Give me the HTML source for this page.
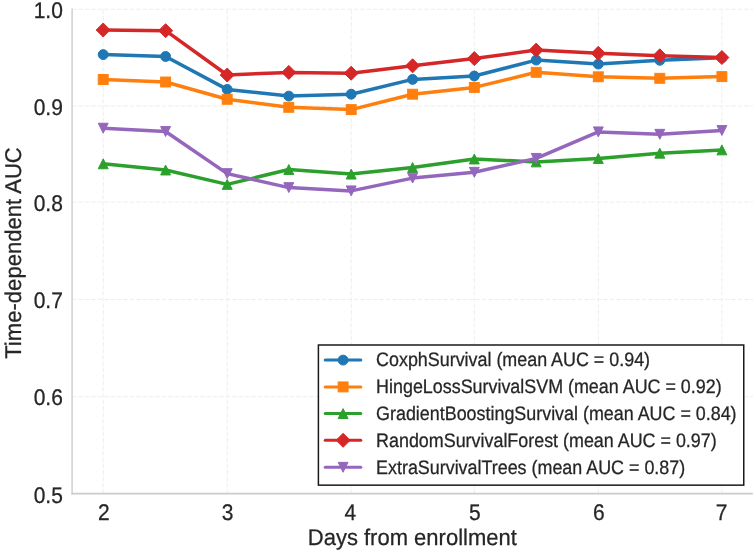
<!DOCTYPE html>
<html><head><meta charset="utf-8"><style>
html,body{margin:0;padding:0;background:#fff;width:756px;height:552px;overflow:hidden;}
svg{display:block;will-change:transform;filter:blur(0.3px);text-rendering:geometricPrecision;font-family:"Liberation Sans",sans-serif;}
</style></head><body>
<svg width="756" height="552" viewBox="0 0 756 552">
<rect width="756" height="552" fill="#fff"/>
<line x1="103.20" y1="9.20" x2="103.20" y2="493.30" stroke="#eeeeee" stroke-width="1" stroke-dasharray="4.6,1.8"/>
<line x1="227.20" y1="9.20" x2="227.20" y2="493.30" stroke="#eeeeee" stroke-width="1" stroke-dasharray="4.6,1.8"/>
<line x1="351.20" y1="9.20" x2="351.20" y2="493.30" stroke="#eeeeee" stroke-width="1" stroke-dasharray="4.6,1.8"/>
<line x1="474.30" y1="9.20" x2="474.30" y2="493.30" stroke="#eeeeee" stroke-width="1" stroke-dasharray="4.6,1.8"/>
<line x1="598.30" y1="9.20" x2="598.30" y2="493.30" stroke="#eeeeee" stroke-width="1" stroke-dasharray="4.6,1.8"/>
<line x1="721.90" y1="9.20" x2="721.90" y2="493.30" stroke="#eeeeee" stroke-width="1" stroke-dasharray="4.6,1.8"/>
<line x1="72.10" y1="396.70" x2="752.90" y2="396.70" stroke="#eeeeee" stroke-width="1" stroke-dasharray="4.6,1.8"/>
<line x1="72.10" y1="299.40" x2="752.90" y2="299.40" stroke="#eeeeee" stroke-width="1" stroke-dasharray="4.6,1.8"/>
<line x1="72.10" y1="202.10" x2="752.90" y2="202.10" stroke="#eeeeee" stroke-width="1" stroke-dasharray="4.6,1.8"/>
<line x1="72.10" y1="106.00" x2="752.90" y2="106.00" stroke="#eeeeee" stroke-width="1" stroke-dasharray="4.6,1.8"/>
<line x1="72.10" y1="9.20" x2="752.90" y2="9.20" stroke="#eeeeee" stroke-width="1" stroke-dasharray="4.6,1.8"/>
<line x1="72.10" y1="8.50" x2="72.10" y2="494.40" stroke="#cccccc" stroke-width="1.4"/>
<line x1="71.40" y1="493.60" x2="752.90" y2="493.60" stroke="#cccccc" stroke-width="1.6"/>
<polyline points="103.20,54.60 165.60,56.50 227.20,89.40 288.80,96.10 351.20,94.20 412.60,79.40 474.30,76.00 536.20,60.10 598.30,64.10 659.80,60.30 721.90,57.80" fill="none" stroke="#1f77b4" stroke-width="3.5" stroke-linejoin="round" stroke-linecap="round"/>
<circle cx="103.20" cy="54.60" r="4.95" fill="#1f77b4" stroke="#1f77b4" stroke-width="1.0"/>
<circle cx="165.60" cy="56.50" r="4.95" fill="#1f77b4" stroke="#1f77b4" stroke-width="1.0"/>
<circle cx="227.20" cy="89.40" r="4.95" fill="#1f77b4" stroke="#1f77b4" stroke-width="1.0"/>
<circle cx="288.80" cy="96.10" r="4.95" fill="#1f77b4" stroke="#1f77b4" stroke-width="1.0"/>
<circle cx="351.20" cy="94.20" r="4.95" fill="#1f77b4" stroke="#1f77b4" stroke-width="1.0"/>
<circle cx="412.60" cy="79.40" r="4.95" fill="#1f77b4" stroke="#1f77b4" stroke-width="1.0"/>
<circle cx="474.30" cy="76.00" r="4.95" fill="#1f77b4" stroke="#1f77b4" stroke-width="1.0"/>
<circle cx="536.20" cy="60.10" r="4.95" fill="#1f77b4" stroke="#1f77b4" stroke-width="1.0"/>
<circle cx="598.30" cy="64.10" r="4.95" fill="#1f77b4" stroke="#1f77b4" stroke-width="1.0"/>
<circle cx="659.80" cy="60.30" r="4.95" fill="#1f77b4" stroke="#1f77b4" stroke-width="1.0"/>
<circle cx="721.90" cy="57.80" r="4.95" fill="#1f77b4" stroke="#1f77b4" stroke-width="1.0"/>
<polyline points="103.20,79.50 165.60,82.00 227.20,99.30 288.80,107.30 351.20,109.60 412.60,94.20 474.30,87.40 536.20,72.30 598.30,76.80 659.80,78.30 721.90,76.60" fill="none" stroke="#ff7f0e" stroke-width="3.5" stroke-linejoin="round" stroke-linecap="round"/>
<rect x="98.25" y="74.55" width="9.90" height="9.90" fill="#ff7f0e" stroke="#ff7f0e" stroke-width="1.0"/>
<rect x="160.65" y="77.05" width="9.90" height="9.90" fill="#ff7f0e" stroke="#ff7f0e" stroke-width="1.0"/>
<rect x="222.25" y="94.35" width="9.90" height="9.90" fill="#ff7f0e" stroke="#ff7f0e" stroke-width="1.0"/>
<rect x="283.85" y="102.35" width="9.90" height="9.90" fill="#ff7f0e" stroke="#ff7f0e" stroke-width="1.0"/>
<rect x="346.25" y="104.65" width="9.90" height="9.90" fill="#ff7f0e" stroke="#ff7f0e" stroke-width="1.0"/>
<rect x="407.65" y="89.25" width="9.90" height="9.90" fill="#ff7f0e" stroke="#ff7f0e" stroke-width="1.0"/>
<rect x="469.35" y="82.45" width="9.90" height="9.90" fill="#ff7f0e" stroke="#ff7f0e" stroke-width="1.0"/>
<rect x="531.25" y="67.35" width="9.90" height="9.90" fill="#ff7f0e" stroke="#ff7f0e" stroke-width="1.0"/>
<rect x="593.35" y="71.85" width="9.90" height="9.90" fill="#ff7f0e" stroke="#ff7f0e" stroke-width="1.0"/>
<rect x="654.85" y="73.35" width="9.90" height="9.90" fill="#ff7f0e" stroke="#ff7f0e" stroke-width="1.0"/>
<rect x="716.95" y="71.65" width="9.90" height="9.90" fill="#ff7f0e" stroke="#ff7f0e" stroke-width="1.0"/>
<polyline points="103.20,163.80 165.60,170.00 227.20,184.40 288.80,169.50 351.20,174.10 412.60,167.50 474.30,159.00 536.20,161.90 598.30,158.50 659.80,153.20 721.90,149.90" fill="none" stroke="#2ca02c" stroke-width="3.5" stroke-linejoin="round" stroke-linecap="round"/>
<path d="M103.20,158.85L108.15,168.75L98.25,168.75Z" fill="#2ca02c" stroke="#2ca02c" stroke-width="1.0" stroke-linejoin="miter"/>
<path d="M165.60,165.05L170.55,174.95L160.65,174.95Z" fill="#2ca02c" stroke="#2ca02c" stroke-width="1.0" stroke-linejoin="miter"/>
<path d="M227.20,179.45L232.15,189.35L222.25,189.35Z" fill="#2ca02c" stroke="#2ca02c" stroke-width="1.0" stroke-linejoin="miter"/>
<path d="M288.80,164.55L293.75,174.45L283.85,174.45Z" fill="#2ca02c" stroke="#2ca02c" stroke-width="1.0" stroke-linejoin="miter"/>
<path d="M351.20,169.15L356.15,179.05L346.25,179.05Z" fill="#2ca02c" stroke="#2ca02c" stroke-width="1.0" stroke-linejoin="miter"/>
<path d="M412.60,162.55L417.55,172.45L407.65,172.45Z" fill="#2ca02c" stroke="#2ca02c" stroke-width="1.0" stroke-linejoin="miter"/>
<path d="M474.30,154.05L479.25,163.95L469.35,163.95Z" fill="#2ca02c" stroke="#2ca02c" stroke-width="1.0" stroke-linejoin="miter"/>
<path d="M536.20,156.95L541.15,166.85L531.25,166.85Z" fill="#2ca02c" stroke="#2ca02c" stroke-width="1.0" stroke-linejoin="miter"/>
<path d="M598.30,153.55L603.25,163.45L593.35,163.45Z" fill="#2ca02c" stroke="#2ca02c" stroke-width="1.0" stroke-linejoin="miter"/>
<path d="M659.80,148.25L664.75,158.15L654.85,158.15Z" fill="#2ca02c" stroke="#2ca02c" stroke-width="1.0" stroke-linejoin="miter"/>
<path d="M721.90,144.95L726.85,154.85L716.95,154.85Z" fill="#2ca02c" stroke="#2ca02c" stroke-width="1.0" stroke-linejoin="miter"/>
<polyline points="103.20,30.00 165.60,30.70 227.20,75.00 288.80,72.40 351.20,73.20 412.60,65.80 474.30,58.60 536.20,50.10 598.30,53.30 659.80,55.80 721.90,57.50" fill="none" stroke="#d62728" stroke-width="3.5" stroke-linejoin="round" stroke-linecap="round"/>
<path d="M103.20,23.00L110.20,30.00L103.20,37.00L96.20,30.00Z" fill="#d62728" stroke="#d62728" stroke-width="1.0" stroke-linejoin="miter"/>
<path d="M165.60,23.70L172.60,30.70L165.60,37.70L158.60,30.70Z" fill="#d62728" stroke="#d62728" stroke-width="1.0" stroke-linejoin="miter"/>
<path d="M227.20,68.00L234.20,75.00L227.20,82.00L220.20,75.00Z" fill="#d62728" stroke="#d62728" stroke-width="1.0" stroke-linejoin="miter"/>
<path d="M288.80,65.40L295.80,72.40L288.80,79.40L281.80,72.40Z" fill="#d62728" stroke="#d62728" stroke-width="1.0" stroke-linejoin="miter"/>
<path d="M351.20,66.20L358.20,73.20L351.20,80.20L344.20,73.20Z" fill="#d62728" stroke="#d62728" stroke-width="1.0" stroke-linejoin="miter"/>
<path d="M412.60,58.80L419.60,65.80L412.60,72.80L405.60,65.80Z" fill="#d62728" stroke="#d62728" stroke-width="1.0" stroke-linejoin="miter"/>
<path d="M474.30,51.60L481.30,58.60L474.30,65.60L467.30,58.60Z" fill="#d62728" stroke="#d62728" stroke-width="1.0" stroke-linejoin="miter"/>
<path d="M536.20,43.10L543.20,50.10L536.20,57.10L529.20,50.10Z" fill="#d62728" stroke="#d62728" stroke-width="1.0" stroke-linejoin="miter"/>
<path d="M598.30,46.30L605.30,53.30L598.30,60.30L591.30,53.30Z" fill="#d62728" stroke="#d62728" stroke-width="1.0" stroke-linejoin="miter"/>
<path d="M659.80,48.80L666.80,55.80L659.80,62.80L652.80,55.80Z" fill="#d62728" stroke="#d62728" stroke-width="1.0" stroke-linejoin="miter"/>
<path d="M721.90,50.50L728.90,57.50L721.90,64.50L714.90,57.50Z" fill="#d62728" stroke="#d62728" stroke-width="1.0" stroke-linejoin="miter"/>
<polyline points="103.20,128.20 165.60,131.50 227.20,173.60 288.80,187.60 351.20,190.90 412.60,178.10 474.30,172.30 536.20,158.40 598.30,131.90 659.80,134.30 721.90,130.50" fill="none" stroke="#9467bd" stroke-width="3.5" stroke-linejoin="round" stroke-linecap="round"/>
<path d="M103.20,133.15L108.15,123.25L98.25,123.25Z" fill="#9467bd" stroke="#9467bd" stroke-width="1.0" stroke-linejoin="miter"/>
<path d="M165.60,136.45L170.55,126.55L160.65,126.55Z" fill="#9467bd" stroke="#9467bd" stroke-width="1.0" stroke-linejoin="miter"/>
<path d="M227.20,178.55L232.15,168.65L222.25,168.65Z" fill="#9467bd" stroke="#9467bd" stroke-width="1.0" stroke-linejoin="miter"/>
<path d="M288.80,192.55L293.75,182.65L283.85,182.65Z" fill="#9467bd" stroke="#9467bd" stroke-width="1.0" stroke-linejoin="miter"/>
<path d="M351.20,195.85L356.15,185.95L346.25,185.95Z" fill="#9467bd" stroke="#9467bd" stroke-width="1.0" stroke-linejoin="miter"/>
<path d="M412.60,183.05L417.55,173.15L407.65,173.15Z" fill="#9467bd" stroke="#9467bd" stroke-width="1.0" stroke-linejoin="miter"/>
<path d="M474.30,177.25L479.25,167.35L469.35,167.35Z" fill="#9467bd" stroke="#9467bd" stroke-width="1.0" stroke-linejoin="miter"/>
<path d="M536.20,163.35L541.15,153.45L531.25,153.45Z" fill="#9467bd" stroke="#9467bd" stroke-width="1.0" stroke-linejoin="miter"/>
<path d="M598.30,136.85L603.25,126.95L593.35,126.95Z" fill="#9467bd" stroke="#9467bd" stroke-width="1.0" stroke-linejoin="miter"/>
<path d="M659.80,139.25L664.75,129.35L654.85,129.35Z" fill="#9467bd" stroke="#9467bd" stroke-width="1.0" stroke-linejoin="miter"/>
<path d="M721.90,135.45L726.85,125.55L716.95,125.55Z" fill="#9467bd" stroke="#9467bd" stroke-width="1.0" stroke-linejoin="miter"/>
<text transform="translate(103.85,519.62) scale(1.0,1.074)" text-anchor="middle" font-size="21.0" fill="#262626" stroke="#262626" stroke-width="0.25">2</text>
<text transform="translate(227.70,519.62) scale(1.0,1.074)" text-anchor="middle" font-size="21.0" fill="#262626" stroke="#262626" stroke-width="0.25">3</text>
<text transform="translate(350.45,519.62) scale(1.0,1.074)" text-anchor="middle" font-size="21.0" fill="#262626" stroke="#262626" stroke-width="0.25">4</text>
<text transform="translate(474.75,519.62) scale(1.0,1.074)" text-anchor="middle" font-size="21.0" fill="#262626" stroke="#262626" stroke-width="0.25">5</text>
<text transform="translate(598.75,519.62) scale(1.0,1.074)" text-anchor="middle" font-size="21.0" fill="#262626" stroke="#262626" stroke-width="0.25">6</text>
<text transform="translate(721.70,519.62) scale(1.0,1.074)" text-anchor="middle" font-size="21.0" fill="#262626" stroke="#262626" stroke-width="0.25">7</text>
<text transform="translate(62.85,502.82) scale(1.0,1.074)" text-anchor="end" font-size="21.0" fill="#262626" stroke="#262626" stroke-width="0.25">0.5</text>
<text transform="translate(62.85,405.47) scale(1.0,1.074)" text-anchor="end" font-size="21.0" fill="#262626" stroke="#262626" stroke-width="0.25">0.6</text>
<text transform="translate(62.85,307.92) scale(1.0,1.074)" text-anchor="end" font-size="21.0" fill="#262626" stroke="#262626" stroke-width="0.25">0.7</text>
<text transform="translate(62.85,211.02) scale(1.0,1.074)" text-anchor="end" font-size="21.0" fill="#262626" stroke="#262626" stroke-width="0.25">0.8</text>
<text transform="translate(62.85,114.82) scale(1.0,1.074)" text-anchor="end" font-size="21.0" fill="#262626" stroke="#262626" stroke-width="0.25">0.9</text>
<text transform="translate(62.85,17.92) scale(1.0,1.074)" text-anchor="end" font-size="21.0" fill="#262626" stroke="#262626" stroke-width="0.25">1.0</text>
<text transform="translate(412.30,545.00) scale(1.0,1.03)" text-anchor="middle" font-size="22.0" fill="#262626" stroke="#262626" stroke-width="0.25">Days from enrollment</text>
<text transform="translate(20.60,253.00) rotate(-90) scale(1.0,1.03)" text-anchor="middle" font-size="22.1" fill="#262626" stroke="#262626" stroke-width="0.25">Time-dependent AUC</text>
<rect x="318.40" y="345.00" width="425.35" height="140.15" fill="#ffffff" stroke="#1a1a1a" stroke-width="1.5"/>
<line x1="325.2" y1="360.1" x2="360.8" y2="360.1" stroke="#1f77b4" stroke-width="3.0" stroke-linecap="round"/>
<circle cx="343.10" cy="360.10" r="4.95" fill="#1f77b4" stroke="#1f77b4" stroke-width="1.0"/>
<text transform="translate(376.10,366.40) scale(1.0,1.09)" text-anchor="start" font-size="17.9" fill="#262626" stroke="#262626" stroke-width="0.25">CoxphSurvival (mean AUC = 0.94)</text>
<line x1="325.2" y1="386.9" x2="360.8" y2="386.9" stroke="#ff7f0e" stroke-width="3.0" stroke-linecap="round"/>
<rect x="338.15" y="381.95" width="9.90" height="9.90" fill="#ff7f0e" stroke="#ff7f0e" stroke-width="1.0"/>
<text transform="translate(376.10,393.20) scale(1.0,1.09)" text-anchor="start" font-size="17.9" fill="#262626" stroke="#262626" stroke-width="0.25">HingeLossSurvivalSVM (mean AUC = 0.92)</text>
<line x1="325.2" y1="413.6" x2="360.8" y2="413.6" stroke="#2ca02c" stroke-width="3.0" stroke-linecap="round"/>
<path d="M343.10,408.65L348.05,418.55L338.15,418.55Z" fill="#2ca02c" stroke="#2ca02c" stroke-width="1.0" stroke-linejoin="miter"/>
<text transform="translate(376.10,419.90) scale(1.0,1.09)" text-anchor="start" font-size="17.9" fill="#262626" stroke="#262626" stroke-width="0.25">GradientBoostingSurvival (mean AUC = 0.84)</text>
<line x1="325.2" y1="440.3" x2="360.8" y2="440.3" stroke="#d62728" stroke-width="3.0" stroke-linecap="round"/>
<path d="M343.10,433.30L350.10,440.30L343.10,447.30L336.10,440.30Z" fill="#d62728" stroke="#d62728" stroke-width="1.0" stroke-linejoin="miter"/>
<text transform="translate(376.10,446.60) scale(1.0,1.09)" text-anchor="start" font-size="17.9" fill="#262626" stroke="#262626" stroke-width="0.25">RandomSurvivalForest (mean AUC = 0.97)</text>
<line x1="325.2" y1="467.3" x2="360.8" y2="467.3" stroke="#9467bd" stroke-width="3.0" stroke-linecap="round"/>
<path d="M343.10,472.25L348.05,462.35L338.15,462.35Z" fill="#9467bd" stroke="#9467bd" stroke-width="1.0" stroke-linejoin="miter"/>
<text transform="translate(376.10,473.60) scale(1.0,1.09)" text-anchor="start" font-size="17.9" fill="#262626" stroke="#262626" stroke-width="0.25">ExtraSurvivalTrees (mean AUC = 0.87)</text>
</svg>
</body></html>
